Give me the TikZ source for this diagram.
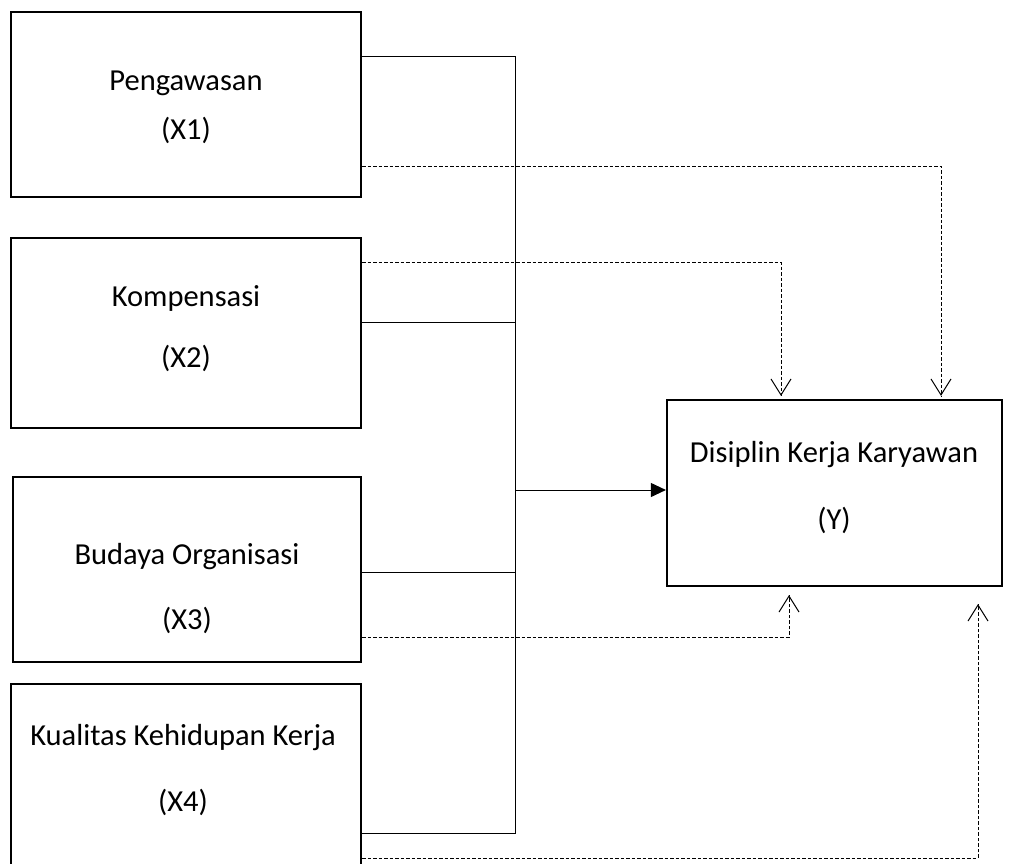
\documentclass[tikz,border=0pt]{standalone}
\usepackage{fontspec}
\setmainfont{Carlito}
\usetikzlibrary{arrows.meta}
\begin{document}
\begin{tikzpicture}[x=1pt,y=-1pt,
  box/.style={draw,line width=2.2pt,minimum width=350pt,inner sep=0pt},
  txt/.style={font=\fontsize{30.5}{34}\selectfont,inner sep=0pt},
  solidline/.style={line width=1pt},
  dashline/.style={line width=0.9pt,dash pattern=on 3.5pt off 2pt},
  vtip/.style={solid,line width=1pt,arrows={-Straight Barb[length=16pt,width=20pt]}},
]
\useasboundingbox (0,0) rectangle (1013,864);
% boxes
\node[box,minimum height=185pt] (x1) at (186,104.5) {};
\node[box,minimum height=190pt] (x2) at (186,333) {};
\node[box,minimum height=185pt,minimum width=348pt] (x3) at (187,569.5) {};
\node[box,minimum height=190pt] (x4) at (186,779) {};
\node[box,minimum height=186pt,minimum width=335pt] (y) at (834.5,493) {};
% texts
\node[txt] (t1a) at (186,83) {Pengawasan};
\node[txt] (t1b) at (186,130) {(X1)};
\node[txt] (t2a) at (186,298) {Kompensasi};
\node[txt] (t2b) at (186,358) {(X2)};
\node[txt] (t3a) at (187,557) {Budaya Organisasi};
\node[txt] (t3b) at (187,620) {(X3)};
\node[txt] (t4a) at (183,738) {Kualitas Kehidupan Kerja};
\node[txt] (t4b) at (183,802) {(X4)};
\node[txt] (tya) at (834,455) {Disiplin Kerja Karyawan};
\node[txt] (tyb) at (834,520) {(Y)};
% bus
\coordinate (bt) at (515,57);
\coordinate (b2) at (515,322);
\coordinate (bm) at (515,490);
\coordinate (b3) at (515,572);
\coordinate (bb) at (515,833);
\draw[solidline] (x1.east |- bt) -- (bt) -- (bb) -- (x4.east |- bb);
\draw[solidline] (x2.east |- b2) -- (b2);
\draw[solidline] (x3.east |- b3) -- (b3);
\draw[solidline,-{Triangle[length=15pt,width=14pt]}] (bm) -- (y.west |- bm);
% dashed arrows
\coordinate (d1) at (941,166);
\coordinate (d2) at (781,262);
\coordinate (d3) at (789,637);
\coordinate (d4) at (978,858);
\coordinate (e1) at ([yshift=3pt]y.north -| d1);
\coordinate (e2) at ([yshift=3pt]y.north -| d2);
\coordinate (e3) at ([yshift=-8pt]y.south -| d3);
\coordinate (e4) at ([yshift=-17pt]y.south -| d4);
\draw[dashline] (x1.east |- d1) -- (d1) -- (e1);
\draw[dashline] (x2.east |- d2) -- (d2) -- (e2);
\draw[dashline] (x3.east |- d3) -- (d3) -- (e3);
\draw[dashline] (x4.east |- d4) -- (d4) -- (e4);
\draw[vtip] ([yshift=2pt]e1) -- (e1);
\draw[vtip] ([yshift=2pt]e2) -- (e2);
\draw[vtip] ([yshift=-2pt]e3) -- (e3);
\draw[vtip] ([yshift=-2pt]e4) -- (e4);
\end{tikzpicture}
\end{document}
